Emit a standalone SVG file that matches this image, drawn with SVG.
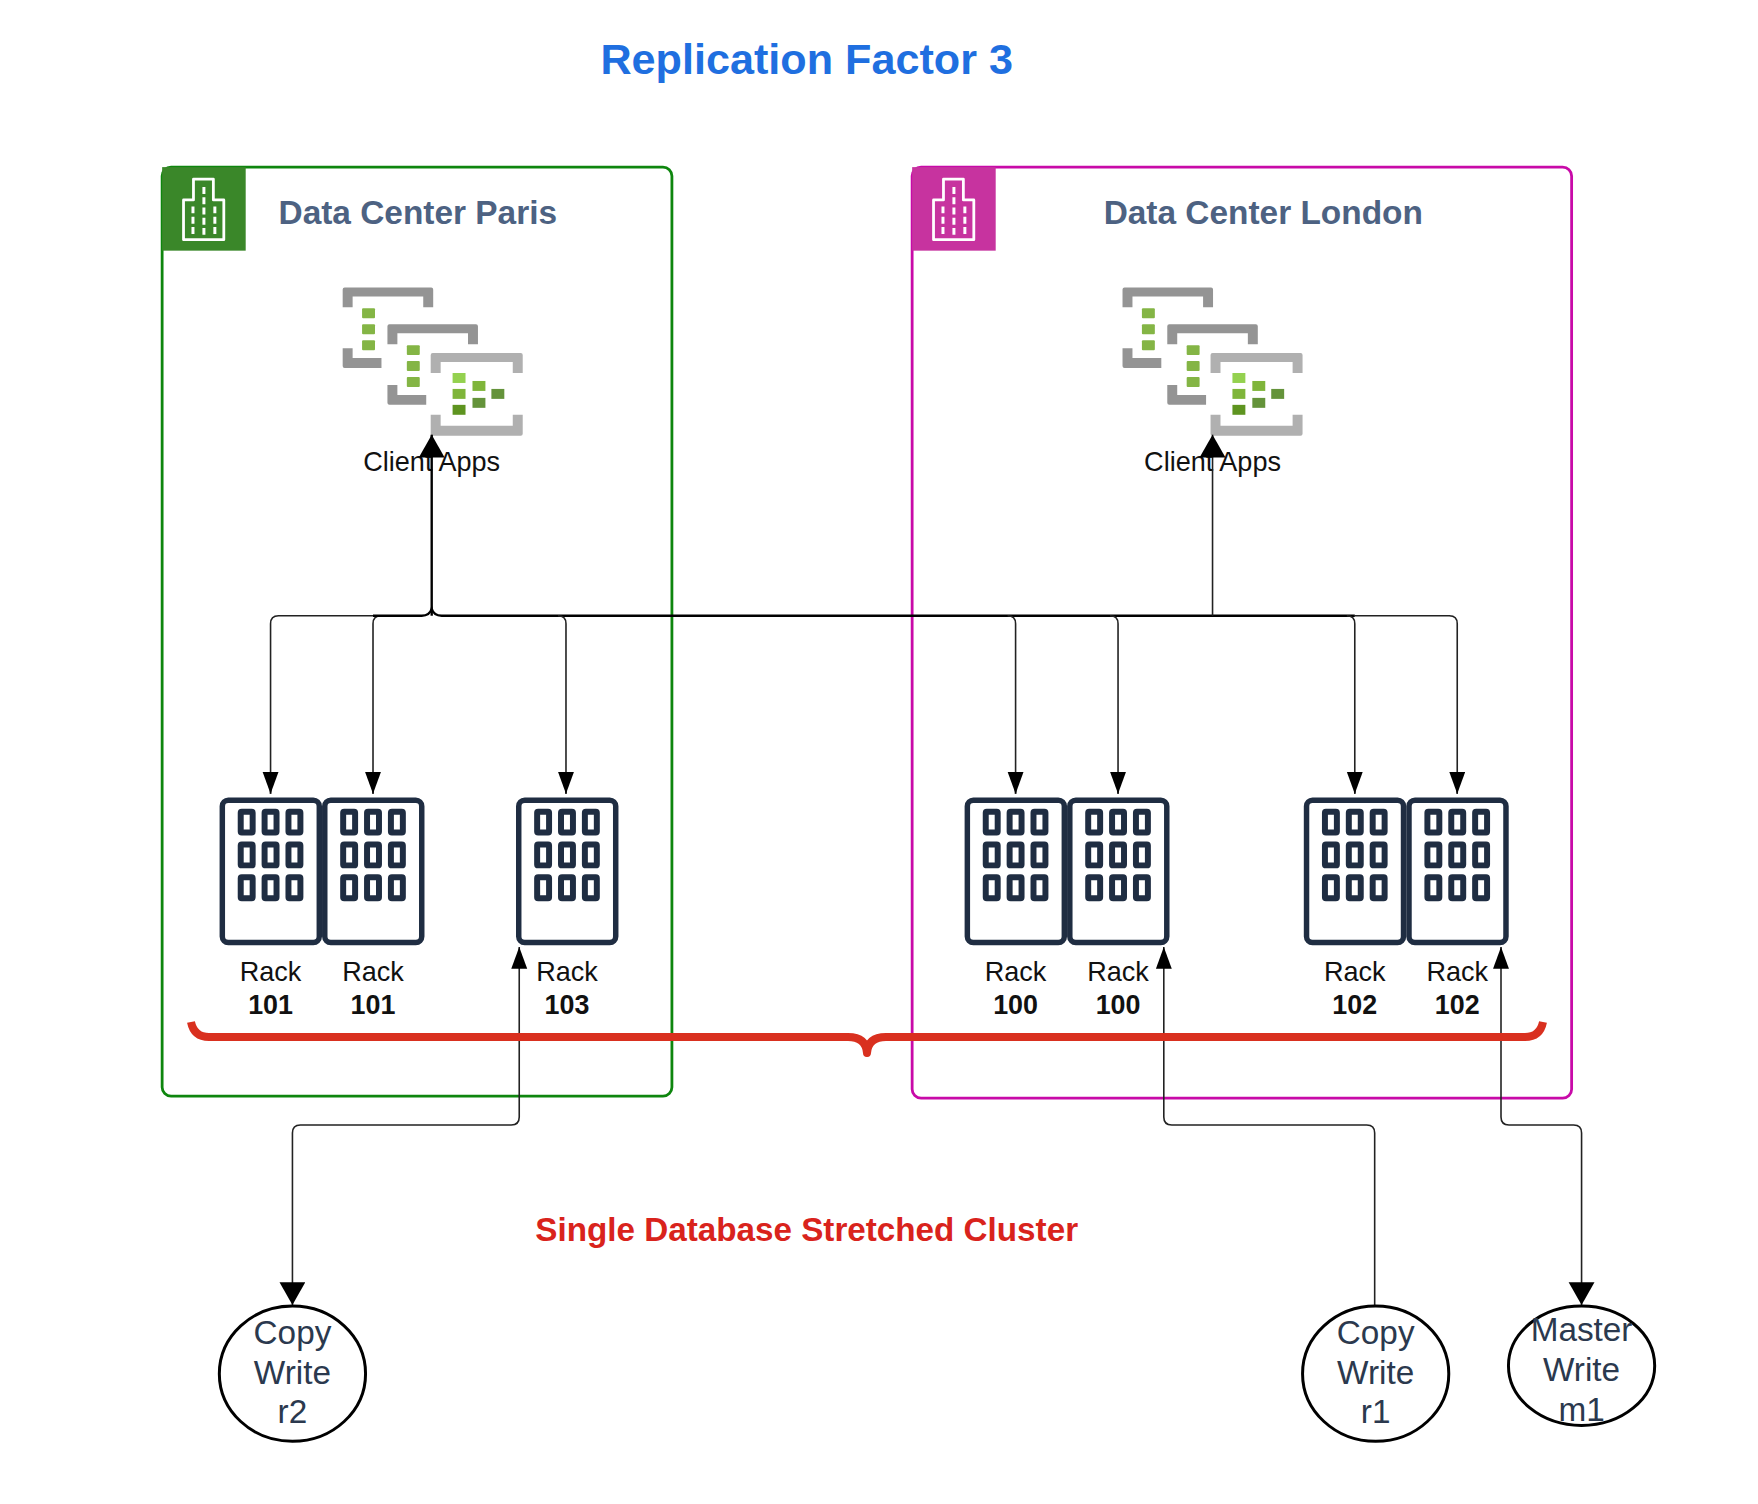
<svg xmlns="http://www.w3.org/2000/svg" width="1758" height="1504" viewBox="0 0 1758 1504">
<style>
text{font-family:"Liberation Sans",Arial,sans-serif;text-anchor:middle}
.frame{fill:none;stroke-width:2.800}
.dc{font-size:33.6px;font-weight:700;fill:#4d6282}
.lbl{font-size:27.200px;fill:#111}
.num{font-size:27px;font-weight:700;fill:#111}
.circ{fill:#fff;stroke:#000;stroke-width:3}
.ct{font-size:33.500px;fill:#2b394e}
.wire{fill:none;stroke:#222;stroke-width:1.6}
.main{fill:none;stroke:#000;stroke-width:2.4}
.bi{fill:none;stroke:#fff;stroke-width:2.800}
.bd{fill:none;stroke:#fff;stroke-width:3;stroke-dasharray:7 3.33}
.rk{fill:#fff;stroke:#1f2d42;stroke-width:5.500}
.wn{fill:#fff;stroke:#1f2d42;stroke-width:6}
.b1{fill:#949494}.b3{fill:#b0b0b0}
</style>
<defs>
<marker id="ah" markerUnits="userSpaceOnUse" markerWidth="24" markerHeight="18" refX="22" refY="8" orient="auto"><path d="M0 0L22 8L0 16Z" fill="#000"/></marker>
<marker id="ab" markerUnits="userSpaceOnUse" markerWidth="25" markerHeight="28" refX="23" refY="13" orient="auto"><path d="M0 0L23 13L0 26Z" fill="#000"/></marker>
<g id="rackshape">
<rect class="rk" x="1.500" y="2.500" width="97.500" height="143" rx="6"/>
<rect class="wn" x="20" y="14" width="12" height="21" rx="1"/><rect class="wn" x="44" y="14" width="12" height="21" rx="1"/><rect class="wn" x="68" y="14" width="12" height="21" rx="1"/>
<rect class="wn" x="20" y="47" width="12" height="21" rx="1"/><rect class="wn" x="44" y="47" width="12" height="21" rx="1"/><rect class="wn" x="68" y="47" width="12" height="21" rx="1"/>
<rect class="wn" x="20" y="80" width="12" height="21" rx="1"/><rect class="wn" x="44" y="80" width="12" height="21" rx="1"/><rect class="wn" x="68" y="80" width="12" height="21" rx="1"/>
</g>
<g id="building">
<path class="bi" d="M21.500 33H31.500V12H51.500V33H62V73H21.500Z" stroke-linejoin="round"/>
<path class="bd" d="M42 20V68M31 39.500V68M53 39.500V68"/>
</g>
<g id="apps">
<path class="b1" d="M0 2Q0 0 2 0H89Q91 0 91 2V20H81V9H10V20H0Z"/><path class="b1" d="M0 61H10V71H39V81H2Q0 81 0 79Z"/>
<g fill="#84b545"><rect x="19.500" y="21" width="13" height="10" rx="1"/><rect x="19.500" y="37" width="13" height="10" rx="1"/><rect x="19.500" y="53" width="13" height="10" rx="1"/></g>
<path class="b1" d="M45 39Q45 37 47 37H134Q136 37 136 39V57H126V46H55V57H45Z"/><path class="b1" d="M45 98H55V108H84V118H47Q45 118 45 116Z"/>
<g fill="#84b545"><rect x="64.500" y="58" width="13" height="10" rx="1"/><rect x="64.500" y="74" width="13" height="10" rx="1"/><rect x="64.500" y="90" width="13" height="10" rx="1"/></g>
<path class="b3" d="M88.500 68Q88.500 66 90.500 66H179Q181 66 181 68V86H171V75H98.500V86H88.500Z"/><path class="b3" d="M88.500 128H98.500V139H171V128H181V147Q181 149 179 149H90.500Q88.500 149 88.500 147Z"/>
<rect x="110.500" y="86" width="13" height="10" fill="#94d14f"/><rect x="110.500" y="102" width="13" height="10" fill="#7fb53a"/><rect x="110.500" y="118" width="13" height="10" fill="#5e9420"/>
<rect x="130.500" y="94" width="13" height="10" fill="#7fb53a"/><rect x="130.500" y="111" width="13" height="10" fill="#64933a"/>
<rect x="149.500" y="102" width="13" height="10" fill="#64933a"/>
</g>
</defs>

<g transform="scale(.9947)">
<text x="811" y="74" font-size="43.400" font-weight="700" fill="#1f6fe0">Replication Factor 3</text>

<g id="dc-paris">
<rect class="frame" x="163" y="168" width="512.500" height="934" rx="9" stroke="#0e860e"/>
<rect x="163" y="168" width="84" height="84" fill="#3a8729"/>
<use href="#building" x="163" y="168"/>
<text class="dc" x="420" y="225">Data Center Paris</text>
</g>
<g id="dc-london">
<rect class="frame" x="917" y="168" width="663" height="936" rx="9" stroke="#c80aa8"/>
<rect x="917" y="168" width="84" height="84" fill="#c7339f"/>
<use href="#building" x="917" y="168"/>
<text class="dc" x="1270" y="225">Data Center London</text>
</g>

<g id="apps-paris"><use href="#apps" x="344.500" y="289"/><text class="lbl" x="434" y="473.500">Client Apps</text></g>
<g id="apps-london"><use href="#apps" x="1128.500" y="289"/><text class="lbl" x="1219" y="473.500">Client Apps</text></g>

<g id="rack-a"><use href="#rackshape" x="222" y="802"/><text class="lbl" x="272" y="986">Rack</text><text class="num" x="272" y="1019">101</text></g>
<g id="rack-b"><use href="#rackshape" x="325" y="802"/><text class="lbl" x="375" y="986">Rack</text><text class="num" x="375" y="1019">101</text></g>
<g id="rack-c"><use href="#rackshape" x="520" y="802"/><text class="lbl" x="570" y="986">Rack</text><text class="num" x="570" y="1019">103</text></g>
<g id="rack-d"><use href="#rackshape" x="971" y="802"/><text class="lbl" x="1021" y="986">Rack</text><text class="num" x="1021" y="1019">100</text></g>
<g id="rack-e"><use href="#rackshape" x="1074" y="802"/><text class="lbl" x="1124" y="986">Rack</text><text class="num" x="1124" y="1019">100</text></g>
<g id="rack-f"><use href="#rackshape" x="1312" y="802"/><text class="lbl" x="1362" y="986">Rack</text><text class="num" x="1362" y="1019">102</text></g>
<g id="rack-g"><use href="#rackshape" x="1415" y="802"/><text class="lbl" x="1465" y="986">Rack</text><text class="num" x="1465" y="1019">102</text></g>

<g id="connectors">
<path class="wire" d="M272 798V627Q272 619 280 619H375"/>
<path class="wire" d="M375 798V627Q375 619 383 619H424"/>
<path class="main" d="M375 619H424Q432 619 434 612Q436 619 444 619H1362"/>
<path class="main" d="M434 619V437" marker-end="url(#ab)"/>
<path class="wire" d="M1219 619V437" marker-end="url(#ab)"/>
<path class="wire" d="M569 798V627Q569 619 561 619"/>
<path class="wire" d="M1021 798V627Q1021 619 1013 619"/>
<path class="wire" d="M1124 798V627Q1124 619 1116 619"/>
<path class="wire" d="M1362 798V627Q1362 619 1354 619"/>
<path class="wire" d="M1465 798V627Q1465 619 1457 619H1361"/>
<path class="wire" d="M294 1139Q294 1131 302 1131H514Q522 1131 522 1123V952" marker-end="url(#ah)"/>
<path class="wire" d="M294 1139V1312" marker-end="url(#ab)"/>
<path class="wire" d="M1382 1312V1139Q1382 1131 1374 1131H1178Q1170 1131 1170 1123V952" marker-end="url(#ah)"/>
<path class="wire" d="M1509 1123Q1509 1131 1517 1131H1582Q1590 1131 1590 1139V1312" marker-end="url(#ab)"/>
<path class="wire" d="M1509 1123V952" marker-end="url(#ah)"/>
<path class="wire" d="M272 780V798" marker-end="url(#ah)"/>
<path class="wire" d="M375 780V798" marker-end="url(#ah)"/>
<path class="wire" d="M569 780V798" marker-end="url(#ah)"/>
<path class="wire" d="M1021 780V798" marker-end="url(#ah)"/>
<path class="wire" d="M1124 780V798" marker-end="url(#ah)"/>
<path class="wire" d="M1362 780V798" marker-end="url(#ah)"/>
<path class="wire" d="M1465 780V798" marker-end="url(#ah)"/>
</g>

<text x="811" y="1248" font-size="33.400" font-weight="700" fill="#d9231c">Single Database Stretched Cluster</text>

<g id="write-r2"><ellipse class="circ" cx="294" cy="1381" rx="73.500" ry="68"/><text class="ct" x="294" y="1351">Copy</text><text class="ct" x="294" y="1391">Write</text><text class="ct" x="294" y="1431">r2</text></g>
<g id="write-r1"><ellipse class="circ" cx="1383" cy="1381" rx="73.500" ry="68"/><text class="ct" x="1383" y="1351">Copy</text><text class="ct" x="1383" y="1391">Write</text><text class="ct" x="1383" y="1431">r1</text></g>
<g id="write-m1"><ellipse class="circ" cx="1590" cy="1373" rx="73.500" ry="60"/><text class="ct" x="1590" y="1348">Master</text><text class="ct" x="1590" y="1388">Write</text><text class="ct" x="1590" y="1429">m1</text></g>
</g>

<g id="brace"><path d="M191 1022Q194 1037 209 1037H848Q866 1037 867 1053Q868 1037 886 1037H1525Q1540 1037 1543 1022" fill="none" stroke="#d9301f" stroke-width="8" stroke-linejoin="round"/></g>
</svg>
